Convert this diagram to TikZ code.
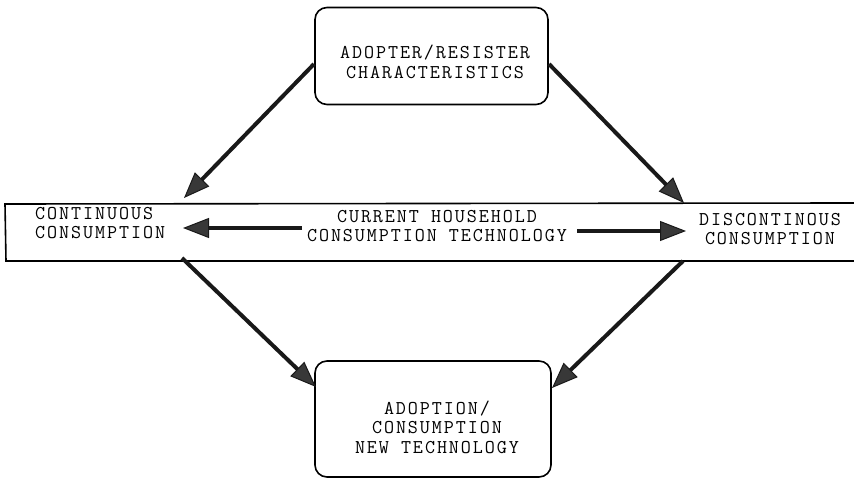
\documentclass[tikz,border=0pt]{standalone}
\usepackage{fontspec}
\setmonofont[LetterSpace=10]{Latin Modern Mono}
\usetikzlibrary{arrows.meta}
\tikzset{
  boxnode/.style={draw=black, line width=1.6pt, rounded corners=12pt, fill=white},
  lbl/.style={font=\ttfamily\fontsize{19.5}{19.5}\selectfont, align=center, inner sep=0pt},
  conn/.style={line width=4pt, draw=black!90, -{Triangle[length=26pt,width=20pt,fill=black!78,line width=1pt]}},
  band/.style={line width=1.6pt, draw=black},
}
\begin{document}
\begin{tikzpicture}[x=1pt,y=-1pt]
\useasboundingbox (0,0) rectangle (854,478);
% band
\draw[band] (854,203) -- (5,204) -- (6,261) -- (854,261);
% boxes
\node[boxnode, minimum width=233pt, minimum height=97pt] (tb) at (431.5,56) {};
\node[lbl] (tbt) at (435,62) {ADOPTER/RESISTER\\CHARACTERISTICS};
\node[boxnode, minimum width=236pt, minimum height=116pt] (bb) at (433,419) {};
\node[lbl] (bbt) at (437,427) {ADOPTION/\\CONSUMPTION\\NEW TECHNOLOGY};
% band texts
\node[lbl, align=left, anchor=west] (cc) at (35,223) {CONTINUOUS\\CONSUMPTION};
\node[lbl] (ct) at (437,226) {CURRENT HOUSEHOLD\\CONSUMPTION TECHNOLOGY};
\node[lbl] (dc) at (770,229) {DISCONTINOUS\\CONSUMPTION};
% connector coordinates
\coordinate (tbl) at (314,64);
\coordinate (tbr) at (549,64);
\coordinate (bandtl) at (184,198);
\coordinate (bandtr) at (684,203);
\coordinate (bandbl) at (182,258);
\coordinate (bandbr) at (683,261);
\coordinate (bbl) at (316,387);
\coordinate (bbr) at (552,388);
\coordinate (hl0) at (302,228);
\coordinate (hl1) at (183,228);
\coordinate (hr0) at (577,231);
\coordinate (hr1) at (686,231);
% connectors
\draw[conn] (tbl) -- (bandtl);
\draw[conn] (tbr) -- (bandtr);
\draw[conn] (bandbl) -- (bbl);
\draw[conn] (bandbr) -- (bbr);
\draw[conn] (hl0) -- (hl1);
\draw[conn] (hr0) -- (hr1);
\end{tikzpicture}
\end{document}
